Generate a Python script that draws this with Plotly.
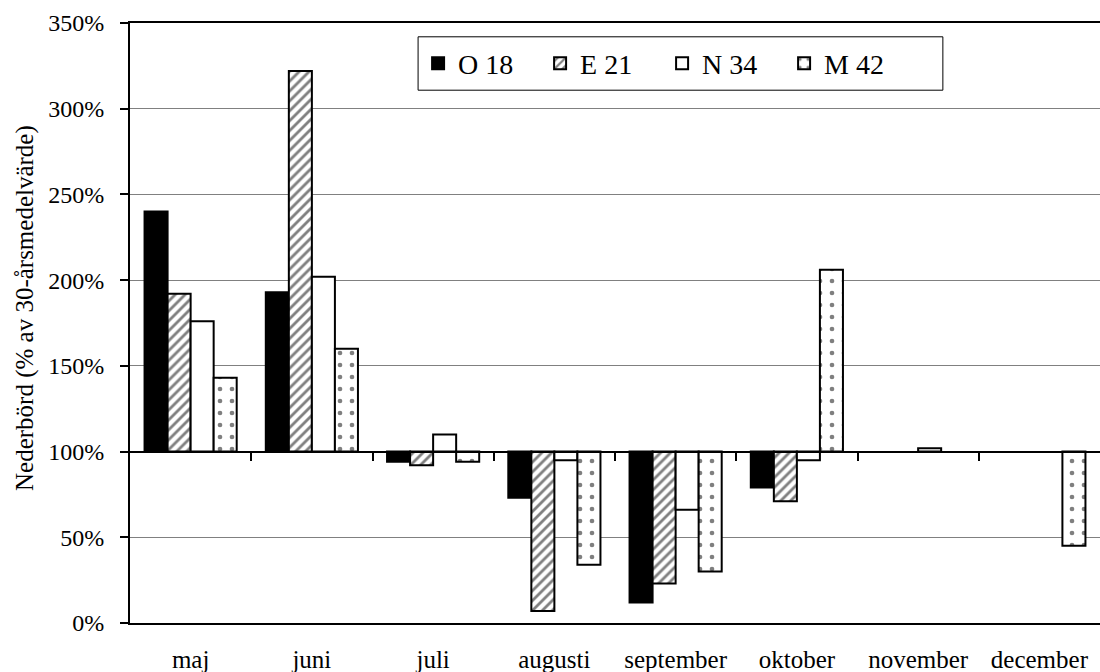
import plotly.graph_objects as go

months = ["maj", "juni", "juli", "augusti", "september", "oktober", "november", "december"]
series_names = ["O 18", "E 21", "N 34", "M 42"]
o18 = [240, 193, 94, 73, 12, 79, None, None]
e21 = [192, 322, 92, 7, 23, 71, None, None]
n34 = [176, 202, 110, 95, 66, 95, 102, None]
m42 = [143, 160, 94, 34, 30, 206, None, 45]
y_ticks = [0, 50, 100, 150, 200, 250, 300, 350]
baseline = 100
y_title = "Nederbörd (% av 30-årsmedelvärde)"

FONT = "Liberation Serif"

patterns = [
    dict(color="black", pattern=dict(shape="")),
    dict(color="white", pattern=dict(shape="/", fgcolor="black", bgcolor="white", size=7, solidity=0.4)),
    dict(color="white", pattern=dict(shape="")),
    dict(color="white", pattern=dict(shape=".", fgcolor="black", bgcolor="white", size=12, solidity=0.12)),
]

fig = go.Figure()
for name, vals, pat in zip(series_names, [o18, e21, n34, m42], patterns):
    fig.add_trace(go.Bar(
        x=list(range(len(months))),
        y=[None if v is None else v - baseline for v in vals],
        base=baseline,
        name=name,
        marker=dict(color=pat["color"], pattern=pat["pattern"],
                    line=dict(color="black", width=2)),
        customdata=vals,
        hovertemplate="%{customdata}%<extra>" + name + "</extra>",
    ))

# invisible trace for the crossing axis at 100%
fig.add_trace(go.Scatter(x=[-0.5, 7.5], y=[baseline, baseline], xaxis="x2",
                         mode="lines", line=dict(width=0), showlegend=False,
                         hoverinfo="skip"))

ymax = y_ticks[-1]
fig.update_layout(
    width=1100, height=672,
    margin=dict(l=130, r=0, t=23, b=49, autoexpand=False),
    paper_bgcolor="white", plot_bgcolor="white",
    font=dict(family=FONT, color="black", size=24),
    barmode="group", bargap=0.24, bargroupgap=0,
    showlegend=True,
    legend=dict(orientation="h", x=0.297, y=0.974, xanchor="left", yanchor="top",
                borderwidth=0, bgcolor="rgba(0,0,0,0)",
                font=dict(family=FONT, size=28), entrywidth=77, entrywidthmode="pixels",
                itemsizing="constant", traceorder="normal", tracegroupgap=0),
    shapes=[dict(type="rect", xref="paper", yref="paper",
                 x0=0.297, x1=0.838, y0=0.888, y1=0.977,
                 line=dict(color="black", width=1), fillcolor="white", layer="above")],
    xaxis=dict(range=[-0.5, 7.5], tickmode="array", tickvals=list(range(len(months))),
               ticktext=months, showline=True, linecolor="black", linewidth=2,
               mirror=True, ticks="", showgrid=False, zeroline=False, automargin=False,
               ticklabelstandoff=13, tickfont=dict(size=25)),
    xaxis2=dict(overlaying="x", anchor="free", position=baseline / ymax,
                range=[-0.5, 7.5], tickmode="array",
                tickvals=[i + 0.5 for i in range(len(months) - 1)],
                ticks="outside", ticklen=8, tickwidth=2, tickcolor="black",
                showticklabels=False, showline=True, linecolor="black", linewidth=2,
                showgrid=False, zeroline=False, automargin=False),
    yaxis=dict(range=[0, ymax], tickmode="array", tickvals=y_ticks,
               ticktext=[f"{v}%" for v in y_ticks],
               showline=True, linecolor="black", linewidth=2,
               ticks="outside", ticklen=8, tickwidth=2, tickcolor="black",
               ticklabelstandoff=11, tickfont=dict(size=24), automargin=False,
               showgrid=True, gridcolor="#808080", gridwidth=1, zeroline=False),
    annotations=[dict(text=y_title, xref="paper", yref="paper", x=0, y=0.525,
                      xanchor="center", yanchor="middle", xshift=-105, textangle=-90,
                      showarrow=False, font=dict(size=25))],
)

fig.write_html("out.html", config={"displayModeBar": False},
               post_script="document.body.style.margin='0';")
